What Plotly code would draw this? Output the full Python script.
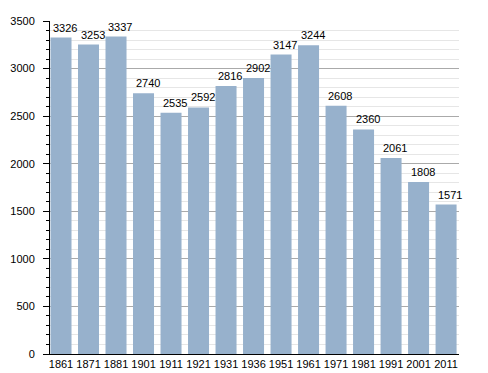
import plotly.graph_objects as go

years = ["1861", "1871", "1881", "1901", "1911", "1921", "1931", "1936",
         "1951", "1961", "1971", "1981", "1991", "2001", "2011"]
population = [3326, 3253, 3337, 2740, 2535, 2592, 2816, 2902,
              3147, 3244, 2608, 2360, 2061, 1808, 1571]
y_ticks = [0, 500, 1000, 1500, 2000, 2500, 3000, 3500]

fig = go.Figure(go.Bar(
    x=years, y=population,
    marker=dict(color="#97b1cc", line=dict(width=0)),
    hoverinfo="skip",
))

# category axis: position annotations by category index
for idx, val in enumerate(population):
    fig.add_annotation(
        x=idx, y=val, text=str(val), showarrow=False,
        xanchor="center", yanchor="bottom", xshift=4, yshift=2,
        font=dict(color="black", size=11, family="Liberation Sans"),
    )

fig.update_layout(
    width=488, height=373,
    margin=dict(l=50, r=29, t=21, b=19, autoexpand=False),
    paper_bgcolor="white", plot_bgcolor="white",
    bargap=0.236,
    showlegend=False,
    font=dict(family="Liberation Sans", size=11, color="black"),
    xaxis=dict(
        type="category",
        range=[-0.40, 14.47],
        automargin=False,
        showline=True, linecolor="black", linewidth=1,
        ticks="", tickfont=dict(size=11, color="black"),
        showgrid=False,
    ),
    yaxis=dict(
        range=[0, 3500],
        tickvals=y_ticks,
        automargin=False,
        showline=True, linecolor="black", linewidth=1,
        ticks="outside", ticklen=6, tickcolor="black",
        ticklabelstandoff=6,
        gridcolor="#aaaaaa", gridwidth=1,
        zeroline=False,
        tickfont=dict(size=11, color="black"),
        minor=dict(dtick=100, ticks="outside", ticklen=3, tickcolor="black",
                   showgrid=True, gridcolor="#e6e6e6", gridwidth=1),
    ),
)

fig.write_html(
    "out.html",
    config={"displayModeBar": False},
    post_script="document.body.style.margin='0';document.body.style.overflow='hidden';",
)
